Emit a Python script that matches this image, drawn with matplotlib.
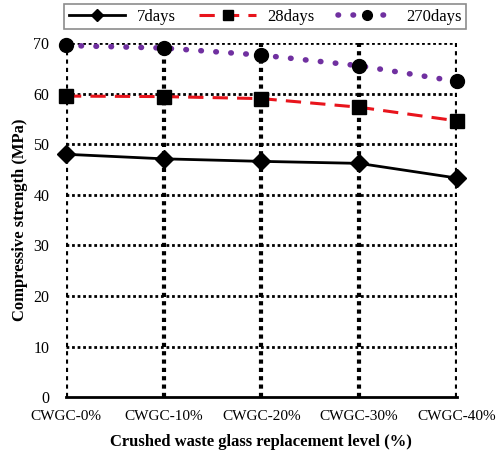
import matplotlib.pyplot as plt
import numpy as np

categories = ["CWGC-0%", "CWGC-10%", "CWGC-20%", "CWGC-30%", "CWGC-40%"]
days7 = [48.0, 47.1, 46.6, 46.2, 43.3]
days28 = [59.5, 59.4, 59.0, 57.3, 54.6]
days270 = [69.5, 69.0, 67.6, 65.5, 62.4]

plt.rcParams['font.family'] = ['Liberation Serif', 'DejaVu Serif']

fig = plt.figure(figsize=(4.96, 4.57), dpi=100)
ax = fig.add_axes([0.133, 0.131, 0.788, 0.775])
x = np.arange(len(categories))

ax.plot(x, days7, color='black', lw=2, marker='D', ms=9, label='7days',
        zorder=3, clip_on=False)
ax.plot(x, days28, color='#e8141c', lw=2.2, ls=(0, (5, 3)), marker='s', ms=10,
        mfc='black', mec='black', label='28days', zorder=3, clip_on=False)
ax.plot(x, days270, color='#7030a0', lw=4, ls=(0, (0.1, 2.6)), dash_capstyle='round',
        marker='o', ms=10, mfc='black', mec='black', label='270days', zorder=3,
        clip_on=False)

ax.set_xlim(0, 4)
ax.set_ylim(0, 70)
ax.set_yticks(range(0, 71, 10))
ax.set_xticks(x)
ax.set_xticklabels(categories)
ax.tick_params(length=0, labelsize=11, pad=9)
ax.tick_params(axis='y', labelsize=11.5, pad=12)

for v in range(10, 71, 10):
    ax.axhline(v, color='black', lw=2, ls=(0, (1, 1)), zorder=1)
for xi in x:
    ax.axvline(xi, color='black', lw=3, ls=(0, (1, 1)), zorder=1)

for s in ['top', 'right', 'left']:
    ax.spines[s].set_visible(False)
ax.spines['bottom'].set_linewidth(2)

ax.set_ylabel('Compressive strength (MPa)', fontsize=12, fontweight='bold')
ax.set_xlabel('Crushed waste glass replacement level (%)', fontsize=12,
              fontweight='bold', labelpad=8)

leg = ax.legend(ncol=3, loc='lower center', bbox_to_anchor=(0.51, 1.04),
                borderaxespad=0, fancybox=False, edgecolor='#707070', fontsize=12,
                handlelength=3.4, handletextpad=0.7, borderpad=0.25,
                columnspacing=1.4, markerscale=0.7)
leg.get_frame().set_linewidth(1.2)

fig.savefig('out.png', dpi=100)
